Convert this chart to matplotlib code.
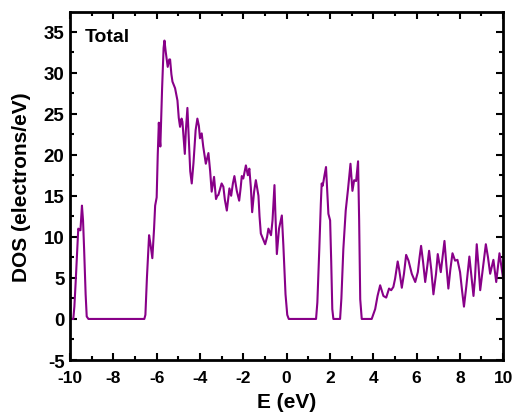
import matplotlib
matplotlib.use("Agg")
import matplotlib.pyplot as plt
from matplotlib.ticker import MultipleLocator

plt.rcParams['font.family'] = ['Liberation Sans', 'DejaVu Sans']
plt.rcParams['font.weight'] = 'bold'

energy = [
    -10.0, -9.85, -9.80, -9.74, -9.62, -9.56, -9.52, -9.45, -9.40, -9.35, -9.28, -9.23, -9.15,
    -6.57, -6.52, -6.45, -6.35, -6.28, -6.20, -6.12, -6.07, -6.00, -5.95, -5.90, -5.86, -5.83,
    -5.75, -5.68, -5.64, -5.58, -5.49, -5.42, -5.38, -5.32, -5.27, -5.15, -5.04, -4.98, -4.92,
    -4.85, -4.81, -4.70, -4.65, -4.58, -4.52, -4.45, -4.38, -4.30, -4.20, -4.12, -4.05, -4.00,
    -3.92, -3.85, -3.73, -3.61, -3.53, -3.46, -3.40, -3.35, -3.26, -3.20, -3.15, -3.00, -2.92,
    -2.85, -2.76, -2.70, -2.64, -2.56, -2.48, -2.41, -2.30, -2.19, -2.12, -2.07, -2.00, -1.93,
    -1.88, -1.79, -1.72, -1.65, -1.59, -1.50, -1.42, -1.30, -1.25, -1.19, -1.10, -0.99, -0.90,
    -0.84, -0.72, -0.65, -0.56, -0.52, -0.45, -0.35, -0.22, -0.15, -0.05, 0.03, 0.10,
    1.36, 1.42, 1.51, 1.58, 1.62, 1.66, 1.70, 1.75, 1.82, 1.87, 1.93, 2.01, 2.06, 2.11, 2.16,
    2.47, 2.53, 2.62, 2.73, 2.84, 2.90, 2.95, 3.00, 3.04, 3.12, 3.21, 3.30, 3.35, 3.40, 3.47,
    3.93, 4.09, 4.20, 4.32, 4.47, 4.60, 4.73, 4.83, 4.93, 5.01, 5.13, 5.20, 5.32, 5.42, 5.52,
    5.63, 5.78, 5.94, 6.06, 6.14, 6.21, 6.30, 6.40, 6.50, 6.58, 6.68, 6.78, 6.90, 6.98, 7.12,
    7.22, 7.29, 7.38, 7.47, 7.56, 7.66, 7.78, 7.89, 8.01, 8.10, 8.19, 8.30, 8.44, 8.63, 8.70,
    8.78, 8.86, 8.94, 9.08, 9.20, 9.30, 9.40, 9.55, 9.68, 9.83, 10.0,
]
dos = [
    0.0, 0.0, 1.5, 4.5, 11.0, 10.8, 10.8, 13.8, 12.0, 8.5, 3.0, 0.3, 0.0,
    0.0, 0.5, 5.0, 10.2, 9.0, 7.4, 11.0, 13.8, 14.8, 20.0, 23.9, 22.0, 21.0,
    28.0, 33.0, 33.9, 32.5, 30.7, 31.6, 31.6, 29.8, 28.9, 28.1, 26.6, 24.5, 23.4,
    24.4, 24.0, 20.1, 23.0, 25.7, 22.0, 18.0, 16.5, 19.0, 23.0, 24.4, 23.5, 22.0,
    22.6, 21.0, 18.9, 20.2, 18.0, 15.5, 16.5, 17.3, 14.6, 15.0, 15.1, 16.5, 16.1,
    14.5, 13.2, 14.5, 15.9, 15.0, 16.5, 17.4, 15.6, 14.4, 16.0, 17.4, 17.1, 18.0,
    18.7, 17.5, 18.3, 16.0, 13.0, 15.5, 16.9, 15.0, 12.5, 10.4, 9.8, 9.1, 10.0,
    11.0, 10.2, 12.0, 16.3, 13.0, 7.9, 11.0, 12.6, 9.0, 3.0, 0.5, 0.0,
    0.0, 2.0, 8.5, 14.0, 16.5, 16.2, 16.7, 17.5, 18.5, 16.0, 12.8, 12.0, 7.0, 1.2, 0.0,
    0.0, 2.5, 8.5, 13.2, 15.9, 17.5, 18.9, 17.0, 15.6, 16.9, 16.8, 19.2, 12.0, 2.4, 0.0,
    0.0, 1.2, 2.8, 4.1, 2.8, 2.6, 3.7, 3.5, 3.9, 4.9, 7.0, 6.0, 3.8, 5.5, 7.8,
    7.1, 5.5, 4.5, 5.7, 7.5, 8.9, 7.0, 4.5, 6.5, 8.3, 6.0, 3.0, 5.5, 7.9, 5.7,
    8.0, 9.5, 6.5, 3.7, 6.0, 8.0, 7.1, 7.2, 5.7, 3.5, 1.5, 4.0, 7.6, 2.8, 5.0,
    9.1, 6.5, 3.5, 6.5, 9.1, 7.5, 5.5, 7.2, 4.5, 8.0, 4.9,
]

x_ticks = [-10, -8, -6, -4, -2, 0, 2, 4, 6, 8, 10]
y_ticks = [-5, 0, 5, 10, 15, 20, 25, 30, 35]

fig = plt.figure(figsize=(5.15, 4.14), dpi=100)
ax = fig.add_axes([0.136, 0.128, 0.841, 0.841])

ax.plot(energy, dos, color='#880088', lw=1.5, solid_joinstyle='round')

ax.set_xlim(-10, 10)
ax.set_ylim(-5, 37.4)
ax.set_xticks(x_ticks)
ax.set_yticks(y_ticks)
ax.set_xticklabels([str(t) for t in x_ticks])
ax.set_yticklabels([str(t) for t in y_ticks])
ax.xaxis.set_minor_locator(MultipleLocator(1))
ax.yaxis.set_minor_locator(MultipleLocator(2.5))
ax.tick_params(which='both', direction='in', top=True, right=True, width=1.5)
ax.tick_params(axis='x', labelsize=12.5, pad=7.5)
ax.tick_params(axis='y', labelsize=13.5, pad=4)
ax.tick_params(which='major', length=5)
ax.tick_params(which='minor', length=3)
for s in ax.spines.values():
    s.set_linewidth(2)

ax.set_xlabel('E (eV)', fontsize=15, fontweight='bold', labelpad=5)
ax.set_ylabel('DOS (electrons/eV)', fontsize=15, fontweight='bold', labelpad=9)
ax.text(0.035, 0.955, 'Total', transform=ax.transAxes, fontsize=14,
        fontweight='bold', va='top', ha='left')

fig.savefig('out.png', dpi=100)
